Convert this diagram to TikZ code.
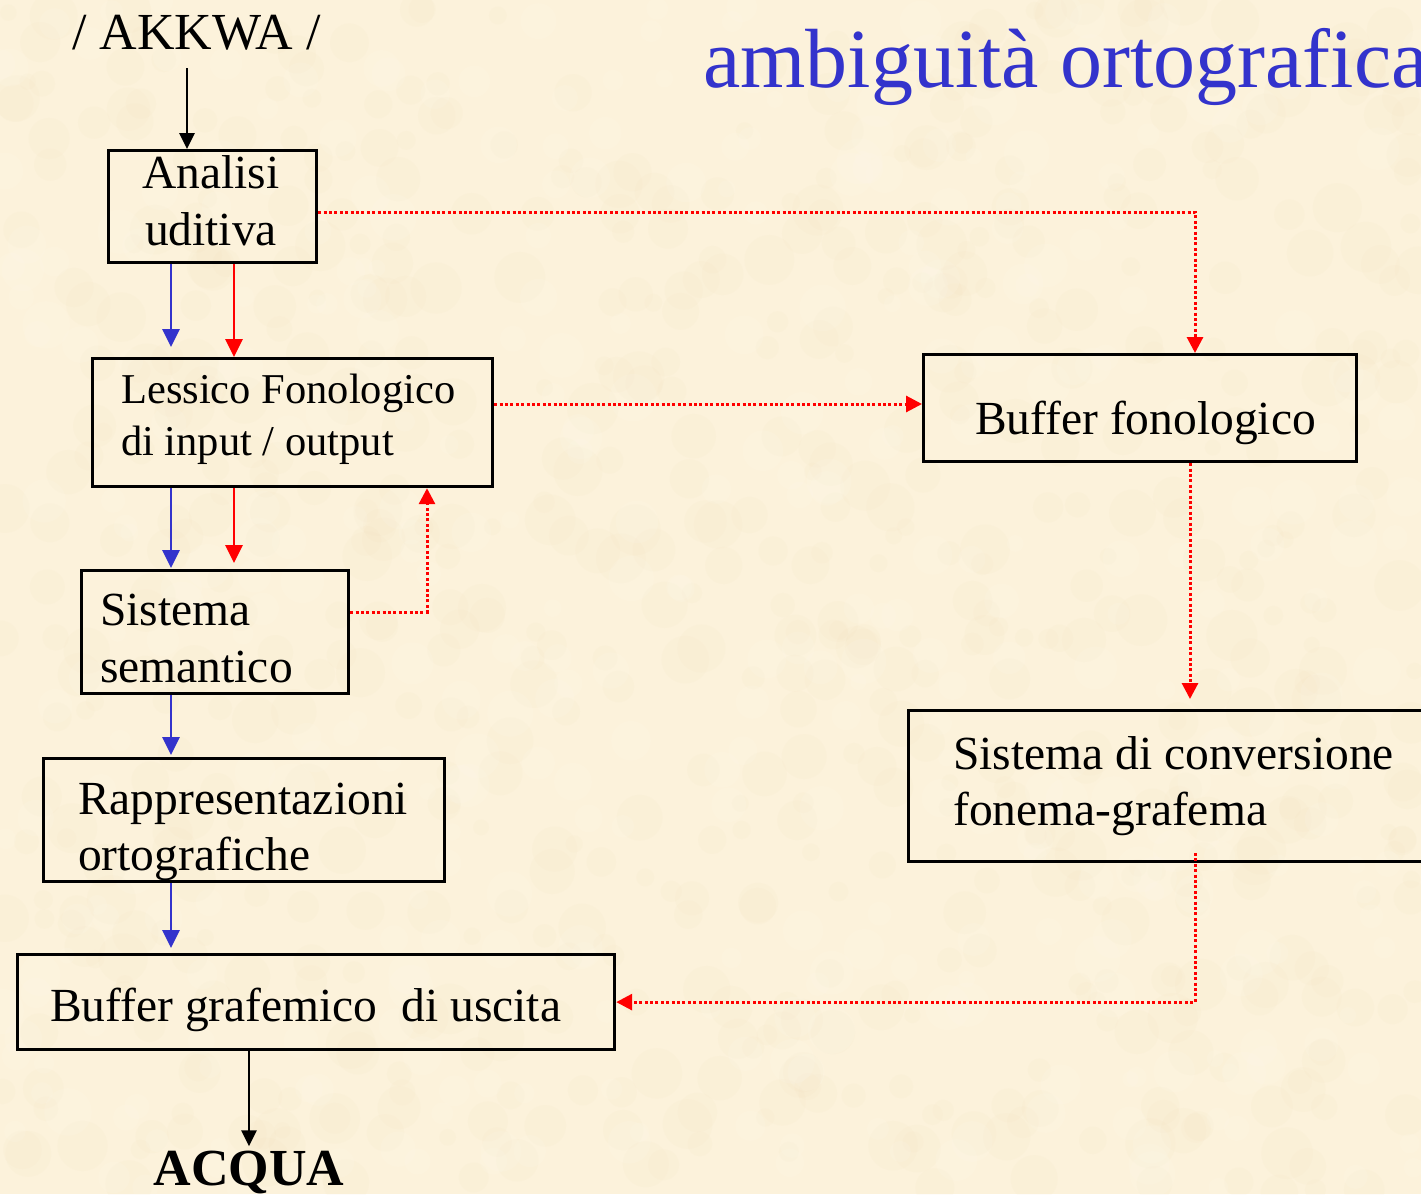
\documentclass[tikz,border=0pt]{standalone}
\usepackage{fontspec}
\setmainfont{Liberation Serif}
\usetikzlibrary{arrows.meta}
\definecolor{paper}{RGB}{252,242,219}
\definecolor{paperspot}{RGB}{240,222,184}
\definecolor{paperlight}{RGB}{255,250,238}
\definecolor{routeblue}{RGB}{51,51,204}
\definecolor{routered}{RGB}{255,0,0}

\begin{document}
\begin{tikzpicture}[x=1pt,y=-1pt,
  box/.style={draw=black, line width=3.2pt, inner sep=0pt, anchor=north west},
  lbl/.style={anchor=base west, inner sep=0pt, font=\fontsize{47.5}{56}\selectfont},
  smalllbl/.style={lbl, font=\fontsize{42.5}{51}\selectfont},
  blackarr/.style={draw=black, line width=2.8pt, -{Triangle[length=16pt,width=15pt]}},
  bluearr/.style={draw=routeblue, line width=2.8pt, -{Triangle[length=18pt,width=17pt]}},
  redarr/.style={draw=routered, line width=2.8pt, -{Triangle[length=18pt,width=17pt]}},
  dotarr/.style={draw=routered, line width=3pt, dash pattern=on 3pt off 2.4pt,
                 -{Triangle[length=16pt,width=16pt]}}
]
% parchment page with a faint mottled grain
\fill[paper] (0,0) rectangle (1421,1194);
\useasboundingbox (0,0) rectangle (1421,1194);
\pgfmathsetseed{4211}
\foreach \i in {1,...,700} {
  \pgfmathsetmacro{\px}{rnd*1421}
  \pgfmathsetmacro{\py}{rnd*1194}
  \pgfmathsetmacro{\pr}{8+rnd*18}
  \fill[paperspot, opacity=0.09] (\px,\py) circle[radius=\pr];
}
\foreach \i in {1,...,400} {
  \pgfmathsetmacro{\px}{rnd*1421}
  \pgfmathsetmacro{\py}{rnd*1194}
  \pgfmathsetmacro{\pr}{8+rnd*16}
  \fill[paperlight, opacity=0.14] (\px,\py) circle[radius=\pr];
}

% title
\node[anchor=base west, inner sep=0pt, text=routeblue, font=\fontsize{84}{96}\selectfont]
  (title) at (703,87) {ambiguità ortografica};

% input and output words
\node[anchor=base west, inner sep=0pt, font=\fontsize{52}{60}\selectfont]
  (akk) at (72,49) {/ AKKWA /};
\node[anchor=base, inner sep=0pt, font=\fontsize{52}{60}\selectfont\bfseries]
  (acq) at (249,1185) {ACQUA};

% boxes
\node[box, minimum width=208pt, minimum height=112pt] (an)   at (107,149) {};
\node[box, minimum width=400pt, minimum height=128pt] (lex)  at (91,357)  {};
\node[box, minimum width=267pt, minimum height=123pt] (sem)  at (80,569)  {};
\node[box, minimum width=401pt, minimum height=123pt] (rap)  at (42,757)  {};
\node[box, minimum width=597pt, minimum height=95pt]  (bg)   at (16,953)  {};
\node[box, minimum width=433pt, minimum height=107pt] (bf)   at (922,353) {};
\node[box, minimum width=560pt, minimum height=151pt] (conv) at (907,709) {};

% box texts
\node[lbl, anchor=base] (an1) at (211,188) {Analisi};
\node[lbl, anchor=base] (an2) at (211,245) {uditiva};
\node[smalllbl] (lex1) at (121,403) {Lessico Fonologico};
\node[smalllbl] (lex2) at (121,455) {di input / output};
\node[lbl] (sem1) at (100,625) {Sistema};
\node[lbl] (sem2) at (100,682) {semantico};
\node[lbl] (rap1) at (78,814) {Rappresentazioni};
\node[lbl] (rap2) at (78,870) {ortografiche};
\node[lbl] (bg1) at (50,1021) {Buffer grafemico\ \ di uscita};
\node[lbl] (bf1) at (975,434) {Buffer fonologico};
\node[lbl] (conv1) at (953,769) {Sistema di conversione};
\node[lbl] (conv2) at (953,825) {fonema-grafema};

% helper coordinates for vertical routes
\coordinate (in1) at (187,68);
\coordinate (cb) at (171,0);
\coordinate (cr) at (234,0);
\coordinate (cd) at (427,0);
\coordinate (cf) at (1195,0);
\coordinate (cf2) at (1190,0);
\coordinate (cs) at (1195,853);

% lexical route (blue)
\draw[bluearr, shorten >=10pt] (cb |- an.south) -- (cb |- lex.north);
\draw[bluearr, shorten >=1pt]  (cb |- lex.south) -- (cb |- sem.north);
\draw[bluearr, shorten >=2pt]  (cb |- sem.south) -- (cb |- rap.north);
\draw[bluearr, shorten >=5pt]  (cb |- rap.south) -- (cb |- bg.north);

% red route
\draw[redarr] (cr |- an.south) -- (cr |- lex.north);
\draw[redarr, shorten >=6pt] (cr |- lex.south) -- (cr |- sem.north);

% dotted red routes
\draw[dotarr] (sem.east |- 0,612) -- (cd |- 0,612) -- (cd |- lex.south);
\draw[dotarr] (an.east |- 0,212) -- (cf |- 0,212) -- (cf |- bf.north);
\draw[dotarr] (lex.east |- 0,404) -- (bf.west |- 0,404);
\draw[dotarr, shorten >=10pt] (cf2 |- bf.south) -- (cf2 |- conv.north);
\draw[dotarr] (cs) -- (cf |- bg.east) -- (bg.east);

% input and output arrows
\draw[blackarr] (in1) -- (in1 |- an.north);
\draw[blackarr, shorten >=4pt] (acq.north |- bg.south) -- (acq.north);
\end{tikzpicture}
\end{document}
